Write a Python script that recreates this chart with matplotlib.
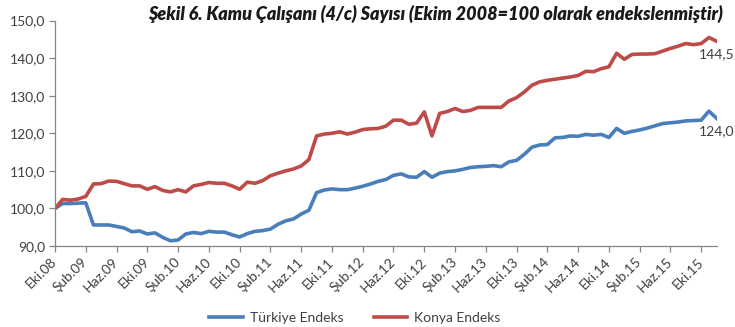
import numpy as np
import matplotlib.pyplot as plt
from matplotlib import transforms

# monthly index, Ekim 2008 = 100 (Eki.08 ... Ara.15)
turkiye = [100.0, 101.3, 101.3, 101.4, 101.5, 95.6, 95.6, 95.6, 95.2, 94.8,
           93.8, 94.0, 93.2, 93.5, 92.3, 91.4, 91.6, 93.2, 93.6, 93.3,
           93.9, 93.7, 93.7, 93.0, 92.4, 93.3, 93.9, 94.1, 94.5, 95.8,
           96.7, 97.2, 98.5, 99.5, 104.2, 104.9, 105.2, 105.0, 105.0, 105.4,
           105.9, 106.5, 107.2, 107.7, 108.8, 109.2, 108.4, 108.3, 109.8, 108.3,
           109.4, 109.8, 110.0, 110.4, 110.9, 111.1, 111.2, 111.4, 111.1, 112.4,
           112.8, 114.4, 116.3, 116.9, 117.0, 118.8, 118.9, 119.3, 119.2, 119.7,
           119.5, 119.7, 118.9, 121.3, 120.0, 120.5, 120.9, 121.4, 122.0, 122.6,
           122.8, 123.0, 123.3, 123.4, 123.5, 125.9, 124.0]
konya = [100.0, 102.4, 102.2, 102.5, 103.2, 106.5, 106.6, 107.3, 107.2, 106.6,
         106.0, 106.0, 105.1, 105.8, 104.8, 104.4, 105.0, 104.4, 106.0, 106.4,
         106.9, 106.7, 106.7, 106.0, 105.1, 107.0, 106.7, 107.4, 108.7, 109.4,
         110.0, 110.5, 111.3, 113.0, 119.3, 119.8, 120.0, 120.4, 119.8, 120.3,
         121.0, 121.2, 121.3, 121.9, 123.5, 123.5, 122.4, 122.7, 125.7, 119.3,
         125.3, 125.8, 126.6, 125.8, 126.1, 126.9, 126.9, 126.9, 126.9, 128.6,
         129.5, 131.0, 132.8, 133.7, 134.1, 134.4, 134.7, 135.0, 135.4, 136.5,
         136.4, 137.2, 137.7, 141.3, 139.7, 141.0, 141.1, 141.1, 141.2, 141.9,
         142.6, 143.2, 143.9, 143.6, 143.9, 145.5, 144.5]
tick_labels = ['Eki.08', 'Şub.09', 'Haz.09', 'Eki.09', 'Şub.10', 'Haz.10',
               'Eki.10', 'Şub.11', 'Haz.11', 'Eki.11', 'Şub.12', 'Haz.12',
               'Eki.12', 'Şub.13', 'Haz.13', 'Eki.13', 'Şub.14', 'Haz.14',
               'Eki.14', 'Şub.15', 'Haz.15', 'Eki.15']
title = 'Şekil 6. Kamu Çalışanı (4/c) Sayısı (Ekim 2008=100 olarak endekslenmiştir)'

plt.rcParams['font.family'] = ['Lato', 'DejaVu Sans']

x = np.arange(len(turkiye))
blue, red = '#4a7ebb', '#be4b48'
text_col = '#404040'
axis_col = '#868686'

fig = plt.figure(figsize=(7.35, 3.27), dpi=100)
ax = fig.add_axes([0.0748, 0.2477, 0.9002, 0.6893])

ax.plot(x, turkiye, color=blue, lw=2.6, label='Türkiye Endeks', solid_joinstyle='round')
ax.plot(x, konya, color=red, lw=2.6, label='Konya Endeks', solid_joinstyle='round')

ax.annotate(f'{konya[-1]:.1f}'.replace('.', ','), (x[-1], konya[-1]), xytext=(0, -5),
            textcoords='offset points', ha='center', va='top', fontsize=10, color=text_col)
ax.annotate(f'{turkiye[-1]:.1f}'.replace('.', ','), (x[-1], turkiye[-1]), xytext=(0, -5),
            textcoords='offset points', ha='center', va='top', fontsize=10, color=text_col)

ax.set_xlim(0, len(x) - 1)
ax.set_ylim(90, 150)
ax.set_yticks(np.arange(90, 151, 10))
ax.set_yticklabels([f'{v:.1f}'.replace('.', ',') for v in np.arange(90, 151, 10)])
ax.set_xticks(np.arange(0, len(x), 4))
ax.set_xticklabels(tick_labels, rotation=45, ha='right', va='center', rotation_mode='anchor')

# shift the rotated month labels a little to the right, under their ticks
shift = transforms.ScaledTranslation(7 / 100, 0, fig.dpi_scale_trans)
for lbl in ax.get_xticklabels():
    lbl.set_transform(lbl.get_transform() + shift)

for side in ['top', 'right']:
    ax.spines[side].set_visible(False)
for side in ['left', 'bottom']:
    ax.spines[side].set_color(axis_col)
    ax.spines[side].set_linewidth(0.9)
ax.tick_params(axis='both', colors=axis_col, length=4, width=0.9, labelcolor=text_col, labelsize=10)
ax.tick_params(axis='y', pad=3)
ax.tick_params(axis='x', pad=6)

# title: shrink until it fits between x=148 and x=726 px
t = fig.text(148 / 735, 1 - 14 / 327, title, fontsize=14, fontweight='heavy', fontstyle='italic',
             color='#1a1a1a', va='center', ha='left')
renderer = fig.canvas.get_renderer()
while t.get_window_extent(renderer).width > 578 and t.get_fontsize() > 8:
    t.set_fontsize(t.get_fontsize() - 0.25)

fig.legend(loc='center', bbox_to_anchor=(0.483, 1 - 318 / 327), ncol=2, frameon=False,
           fontsize=10, handlelength=2.4, columnspacing=2.2, handletextpad=0.5,
           labelcolor=text_col)

fig.savefig('out.png', dpi=100)
